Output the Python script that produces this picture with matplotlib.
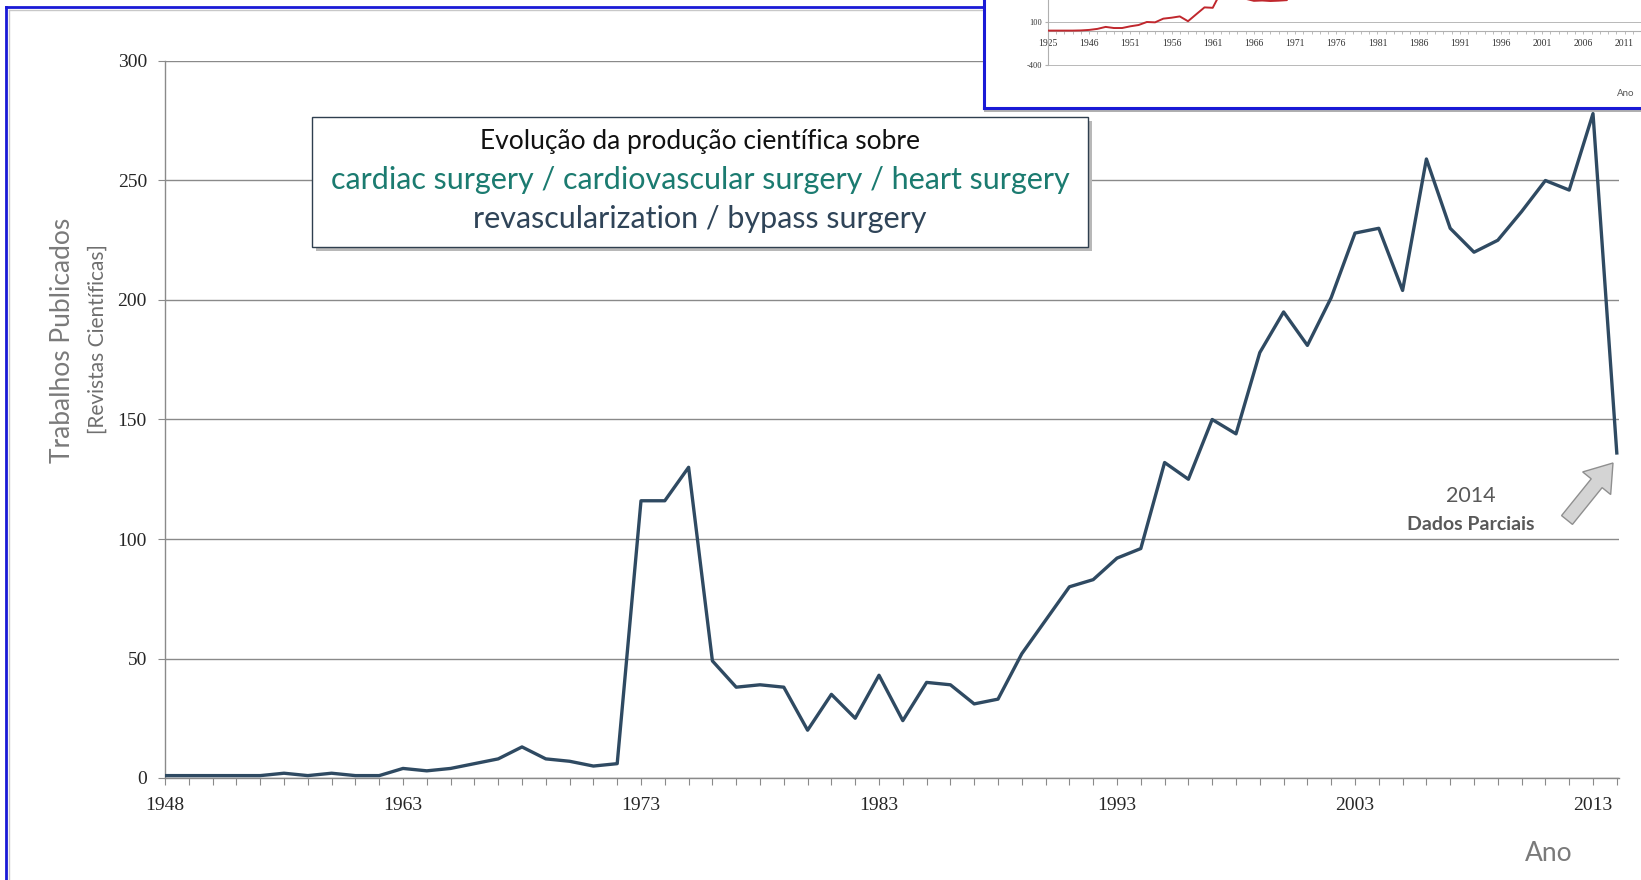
import matplotlib
matplotlib.use("Agg")
import matplotlib.pyplot as plt
from matplotlib.patches import Rectangle, FancyArrow
from matplotlib.transforms import IdentityTransform
import matplotlib.lines as mlines

# ---------------- data ----------------
early_years = [1948, 1950, 1951, 1953, 1954, 1956, 1957, 1959, 1960, 1962]
years = early_years + list(range(1963, 2015))
papers = [1, 1, 1, 1, 1, 2, 1, 2, 1, 1,
          4, 3, 4, 6, 8, 13, 8, 7, 5, 6,
          116, 116, 130, 49, 38, 39, 38, 20, 35, 25,
          43, 24, 40, 39, 31, 33, 52, 66, 80, 83,
          92, 96, 132, 125, 150, 144, 178, 195, 181, 201,
          228, 230, 204, 259, 230, 220, 225, 237, 250, 246,
          278, 136]
shown_year_labels = [1948, 1963, 1973, 1983, 1993, 2003, 2013]
y_ticks = [0, 50, 100, 150, 200, 250, 300]

# cropped picture of another chart (top right)
inset_years = [1925, 1934, 1938, 1942, 1944] + list(range(1946, 2014))
inset_values = [0, 0, 0, 0, 2, 8, 20, 43, 30, 30,
                50, 65, 100, 96, 139, 150, 165, 109, 190, 270,
                265, 450, 700, 500, 370, 346, 350, 344, 348, 354,
                600, 900]
inset_y_ticks = [-400, 100]

title_l1 = "Evolução da produção científica sobre"
title_l2 = "cardiac surgery / cardiovascular surgery / heart surgery"
title_l3 = "revascularization / bypass surgery"

# ---------------- helpers ----------------
W, H = 1641, 880
fig = plt.figure(figsize=(W / 100, H / 100), dpi=100)
fig.patch.set_facecolor("white")

def fx(x):
    return x / W

def fy(y):
    return 1 - y / H

SANS = ["Lato", "DejaVu Sans"]
SERIF = ["Liberation Serif", "DejaVu Serif"]
LINE_COLOR = "#2f4a62"
GRID = "#8a8a8a"

# ---------------- main axes ----------------
ax_l, ax_r, ax_t, ax_b = 165, 1619, 61, 778
ax = fig.add_axes([fx(ax_l), fy(ax_b), (ax_r - ax_l) / W, (ax_b - ax_t) / H])
x = list(range(len(years)))
ax.plot(x, papers, color=LINE_COLOR, lw=2.4, solid_joinstyle="round", zorder=3)
ax.set_xlim(0, (ax_r - ax_l) / 23.8)
ax.set_ylim(0, 300)
ax.set_yticks(y_ticks)
ax.set_yticklabels([str(v) for v in y_ticks], fontfamily=SERIF, fontsize=14, color="#262626")
ax.set_xticks(x)
ax.set_xticklabels([str(y) if y in shown_year_labels else "" for y in years],
                   fontfamily=SERIF, fontsize=14, color="#262626")
ax.tick_params(axis="x", direction="out", length=5, width=0.8, color=GRID, pad=9)
ax.tick_params(axis="y", direction="out", length=5, width=0.8, color=GRID, pad=8)
ax.grid(axis="y", color=GRID, lw=1.0, zorder=0)
ax.set_axisbelow(True)
for s in ["top", "right"]:
    ax.spines[s].set_visible(False)
for s in ["left", "bottom"]:
    ax.spines[s].set_color(GRID)
    ax.spines[s].set_linewidth(1.0)

# axis titles
fig.text(fx(62), fy(340), "Trabalhos Publicados", rotation=90, ha="center", va="center",
         fontfamily=SANS, fontsize=19, color="#7a7a7a")
fig.text(fx(98), fy(339), "[Revistas Científicas]", rotation=90, ha="center", va="center",
         fontfamily=SANS, fontsize=15, color="#6f6f6f")
fig.text(fx(1549), fy(853), "Ano", ha="center", va="center",
         fontfamily=SANS, fontsize=19, color="#7a7a7a")

# title box with shadow
bx0, by0, bx1, by1 = 312, 117, 1088, 247
fig.patches.append(Rectangle((fx(bx0 + 4), fy(by1 + 4)), (bx1 - bx0) / W, (by1 - by0) / H,
                             transform=fig.transFigure, facecolor="#b8b8b8", edgecolor="none",
                             zorder=5))
fig.patches.append(Rectangle((fx(bx0), fy(by1)), (bx1 - bx0) / W, (by1 - by0) / H,
                             transform=fig.transFigure, facecolor="white", edgecolor="#2f3f4f",
                             lw=1.0, zorder=6))
cx = (bx0 + bx1) / 2
fig.text(fx(cx), fy(142), title_l1, ha="center", va="center", fontfamily=SANS,
         fontsize=19, color="#111111", zorder=7)
fig.text(fx(cx), fy(180), title_l2, ha="center", va="center", fontfamily=SANS,
         fontsize=22, color="#1b7b70", zorder=7)
fig.text(fx(cx), fy(219), title_l3, ha="center", va="center", fontfamily=SANS,
         fontsize=22, color="#2f4458", zorder=7)

# 2014 annotation
fig.text(fx(1471), fy(496), "2014", ha="center", va="center", fontfamily=SANS,
         fontsize=15.5, color="#595959")
fig.text(fx(1471), fy(524), "Dados Parciais", ha="center", va="center", fontfamily=SANS,
         fontsize=14, fontweight="bold", color="#595959")
tail = (1567, 520)
head = (1613, 463)
arr = FancyArrow(tail[0], H - tail[1], head[0] - tail[0], -(head[1] - tail[1]),
                 width=14, head_width=36, head_length=26, length_includes_head=True,
                 transform=IdentityTransform(), facecolor="#d4d4d4", edgecolor="#8f8f8f",
                 lw=1.0, zorder=8)
fig.patches.append(arr)

# outer frame (blue + grey)
fig.lines.append(mlines.Line2D([fx(6), fx(6)], [fy(7), 0], transform=fig.transFigure,
                               color="#1a1ad6", lw=2.0, zorder=9))
fig.lines.append(mlines.Line2D([fx(6), fx(990)], [fy(7), fy(7)], transform=fig.transFigure,
                               color="#1a1ad6", lw=2.0, zorder=9))
fig.lines.append(mlines.Line2D([fx(9), fx(9)], [fy(10), 0], transform=fig.transFigure,
                               color="#c8c8c8", lw=1.0, zorder=9))
fig.lines.append(mlines.Line2D([fx(9), fx(990)], [fy(10), fy(10)], transform=fig.transFigure,
                               color="#c8c8c8", lw=1.0, zorder=9))

# ---------------- inset (cropped image of another chart) ----------------
in_l, in_b = 984, 108
fig.patches.append(Rectangle((fx(in_l), fy(in_b + 4)), 1 - fx(in_l), (in_b + 4) / H,
                             transform=fig.transFigure, facecolor="#b0b0b0", edgecolor="none",
                             zorder=10))
fig.patches.append(Rectangle((fx(in_l), fy(in_b)), 1 - fx(in_l), in_b / H,
                             transform=fig.transFigure, facecolor="white", edgecolor="none",
                             zorder=11))
fig.lines.append(mlines.Line2D([fx(in_l), fx(in_l)], [fy(in_b), 1], transform=fig.transFigure,
                               color="#1a1ad6", lw=2.2, zorder=13))
fig.lines.append(mlines.Line2D([fx(in_l), 1], [fy(in_b), fy(in_b)], transform=fig.transFigure,
                               color="#1a1ad6", lw=2.2, zorder=13))

ia_l = 1048
cat_px = 8.3
ia = fig.add_axes([fx(ia_l), fy(in_b - 2), 1 - fx(ia_l), (in_b - 2) / H], zorder=12)
ia.set_facecolor("none")
px_per_unit = 43 / 500
top_val = 100 + 22 / px_per_unit
bot_val = 100 - (in_b - 2 - 22) / px_per_unit
for s in ["top", "right"]:
    ia.spines[s].set_visible(False)
ia.spines["bottom"].set_position(("data", 0))
ia.spines["bottom"].set_color("#b0b0b0")
ia.spines["left"].set_color("#b0b0b0")
ia.set_ylim(bot_val, top_val)
ia.set_xlim(0, (W - ia_l) / cat_px)
ia.spines["left"].set_bounds(-400, top_val)
ia.plot(range(len(inset_values)), inset_values, color="#c0272d", lw=1.4, zorder=3)
ia.set_yticks(inset_y_ticks)
ia.set_yticklabels([str(v) for v in inset_y_ticks], fontfamily=SERIF, fontsize=6, color="#333333")
ia.grid(axis="y", color="#b8b8b8", lw=0.7)
ia.set_axisbelow(True)
ia.tick_params(axis="y", length=2, pad=2, color="#b0b0b0")
ia.set_xticks(range(len(inset_years)))
ia.set_xticklabels([str(y) if i % 5 == 0 else "" for i, y in enumerate(inset_years)],
                   fontfamily=SERIF, fontsize=7, color="#333333")
ia.tick_params(axis="x", direction="out", length=2.5, width=0.6, color="#b0b0b0", pad=3.5)
fig.text(fx(1626), fy(94), "Ano", ha="center", va="center", fontfamily=SANS,
         fontsize=7, color="#555555", zorder=14)

fig.savefig("out.png", dpi=100, facecolor="white")
